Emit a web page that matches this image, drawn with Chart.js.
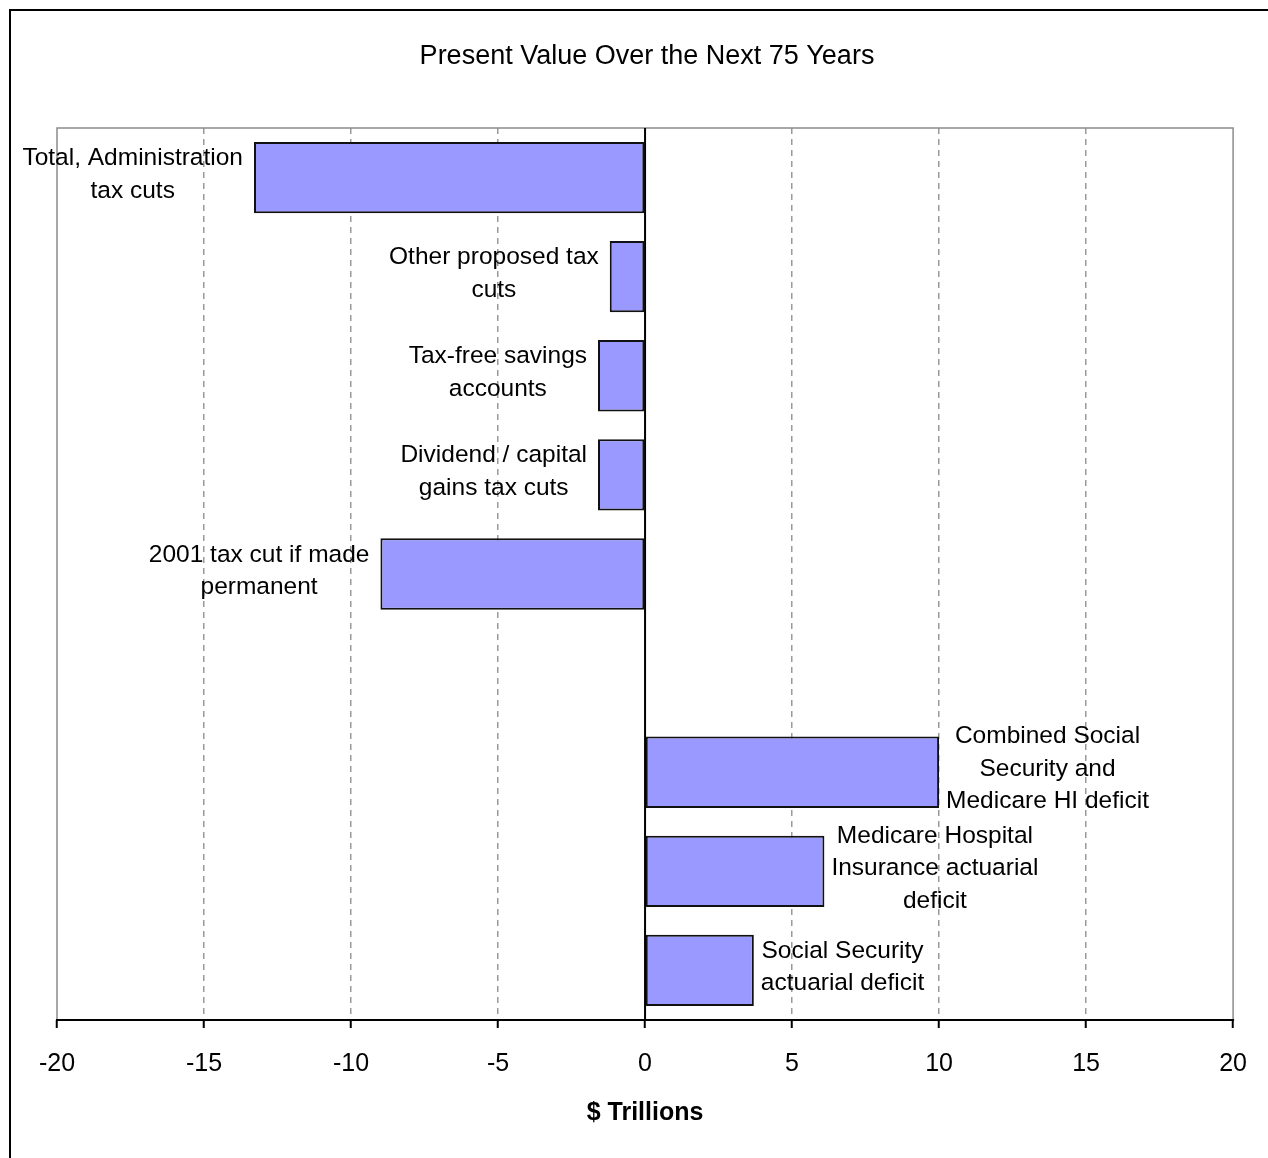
<!DOCTYPE html>
<html>
<head>
<meta charset="utf-8">
<title>Present Value Over the Next 75 Years</title>
<script src="https://cdn.jsdelivr.net/npm/chart.js@4/dist/chart.umd.min.js"></script>
<style>
  html, body { margin: 0; padding: 0; background: #ffffff; }
  canvas { display: block; }
</style>
</head>
<body>
<canvas id="chart" width="1268" height="1158"></canvas>
<script>
// Category label lines, top to bottom (the empty slot separates the two groups)
const categoryLabels = [
  ["Total, Administration", "tax cuts"],
  ["Other proposed tax", "cuts"],
  ["Tax-free savings", "accounts"],
  ["Dividend / capital", "gains tax cuts"],
  ["2001 tax cut if made", "permanent"],
  [""],
  ["Combined Social", "Security and", "Medicare HI deficit"],
  ["Medicare Hospital", "Insurance actuarial", "deficit"],
  ["Social Security", "actuarial deficit"]
];

// Present value, $ trillions
const presentValues = [-13.3, -1.2, -1.6, -1.6, -9.0, null, 10.0, 6.1, 3.7];

// X axis range and tick step
const axisMin = -20;
const axisMax = 20;
const axisStep = 5;

const FONT = '"Liberation Sans", Arial, sans-serif';

// Plot frame, zero line and outer chart border
const framePlugin = {
  id: 'frame',
  beforeDatasetsDraw(chart) {
    const { ctx, chartArea: a, scales } = chart;
    ctx.save();
    ctx.strokeStyle = '#8c8c8c';
    ctx.lineWidth = 1.5;
    ctx.strokeRect(a.left, a.top, a.right - a.left, a.bottom - a.top);
    const x0 = scales.x.getPixelForValue(0);
    ctx.strokeStyle = '#000000';
    ctx.lineWidth = 2;
    ctx.beginPath();
    ctx.moveTo(x0, a.top);
    ctx.lineTo(x0, a.bottom);
    ctx.stroke();
    ctx.restore();
  },
  afterDraw(chart) {
    const { ctx, chartArea: a } = chart;
    ctx.save();
    ctx.strokeStyle = '#000000';
    ctx.lineWidth = 2;
    ctx.beginPath();
    ctx.moveTo(a.left - 1, a.bottom);
    ctx.lineTo(a.right + 1, a.bottom);
    ctx.stroke();
    ctx.strokeRect(10, 10, chart.width + 20, chart.height + 20);
    ctx.restore();
  }
};

// Category names written beside each bar's outer end
const barLabelPlugin = {
  id: 'barLabels',
  afterDatasetsDraw(chart) {
    const { ctx } = chart;
    const meta = chart.getDatasetMeta(0);
    const lineH = 32.5;
    ctx.save();
    ctx.font = '24.5px ' + FONT;
    ctx.fillStyle = '#000000';
    ctx.textAlign = 'center';
    ctx.textBaseline = 'middle';
    meta.data.forEach((bar, i) => {
      const v = presentValues[i];
      if (v === null || v === undefined) return;
      const lines = categoryLabels[i];
      const w = Math.max(...lines.map(l => ctx.measureText(l).width));
      const cx = v < 0 ? bar.x - 11 - w / 2 : bar.x + 7 + w / 2;
      const cy = bar.y - 3;
      const y0 = cy - (lines.length - 1) * lineH / 2;
      lines.forEach((l, k) => ctx.fillText(l, cx, y0 + k * lineH));
    });
    ctx.restore();
  }
};

new Chart(document.getElementById('chart'), {
  type: 'bar',
  data: {
    labels: categoryLabels.map(l => l.join(' ')),
    datasets: [{
      data: presentValues,
      backgroundColor: '#9999ff',
      borderColor: '#111111',
      borderWidth: 2,
      borderSkipped: false,
      barPercentage: 0.72,
      categoryPercentage: 1.0
    }]
  },
  options: {
    indexAxis: 'y',
    responsive: false,
    animation: false,
    events: [],
    layout: { padding: { left: 57, right: 31, top: 0, bottom: 0 } },
    plugins: {
      legend: { display: false },
      tooltip: { enabled: false },
      title: {
        display: true,
        text: 'Present Value Over the Next 75 Years',
        color: '#000000',
        font: { family: FONT, size: 27, weight: 'normal' },
        padding: { top: 40, bottom: 55.6 }
      }
    },
    scales: {
      x: {
        type: 'linear',
        min: axisMin,
        max: axisMax,
        afterFit(scale) { scale.height = 138; },
        ticks: {
          stepSize: axisStep,
          color: '#000000',
          padding: 21,
          font: { family: FONT, size: 25 }
        },
        grid: {
          drawOnChartArea: true,
          drawTicks: true,
          tickLength: 8,
          tickColor: '#000000',
          tickWidth: 2,
          lineWidth: 1.5,
          color: (c) => {
            const v = c.tick ? c.tick.value : null;
            return (v === 0 || v === axisMin || v === axisMax) ? 'rgba(0,0,0,0)' : '#9a9a9a';
          }
        },
        border: { display: false, dash: [6, 5] },
        title: {
          display: true,
          text: '$ Trillions',
          color: '#000000',
          font: { family: FONT, size: 25, weight: 'bold' },
          padding: { top: 0, bottom: 30 }
        }
      },
      y: {
        display: false,
        offset: true,
        grid: { display: false }
      }
    }
  },
  plugins: [framePlugin, barLabelPlugin]
});
</script>
</body>
</html>
